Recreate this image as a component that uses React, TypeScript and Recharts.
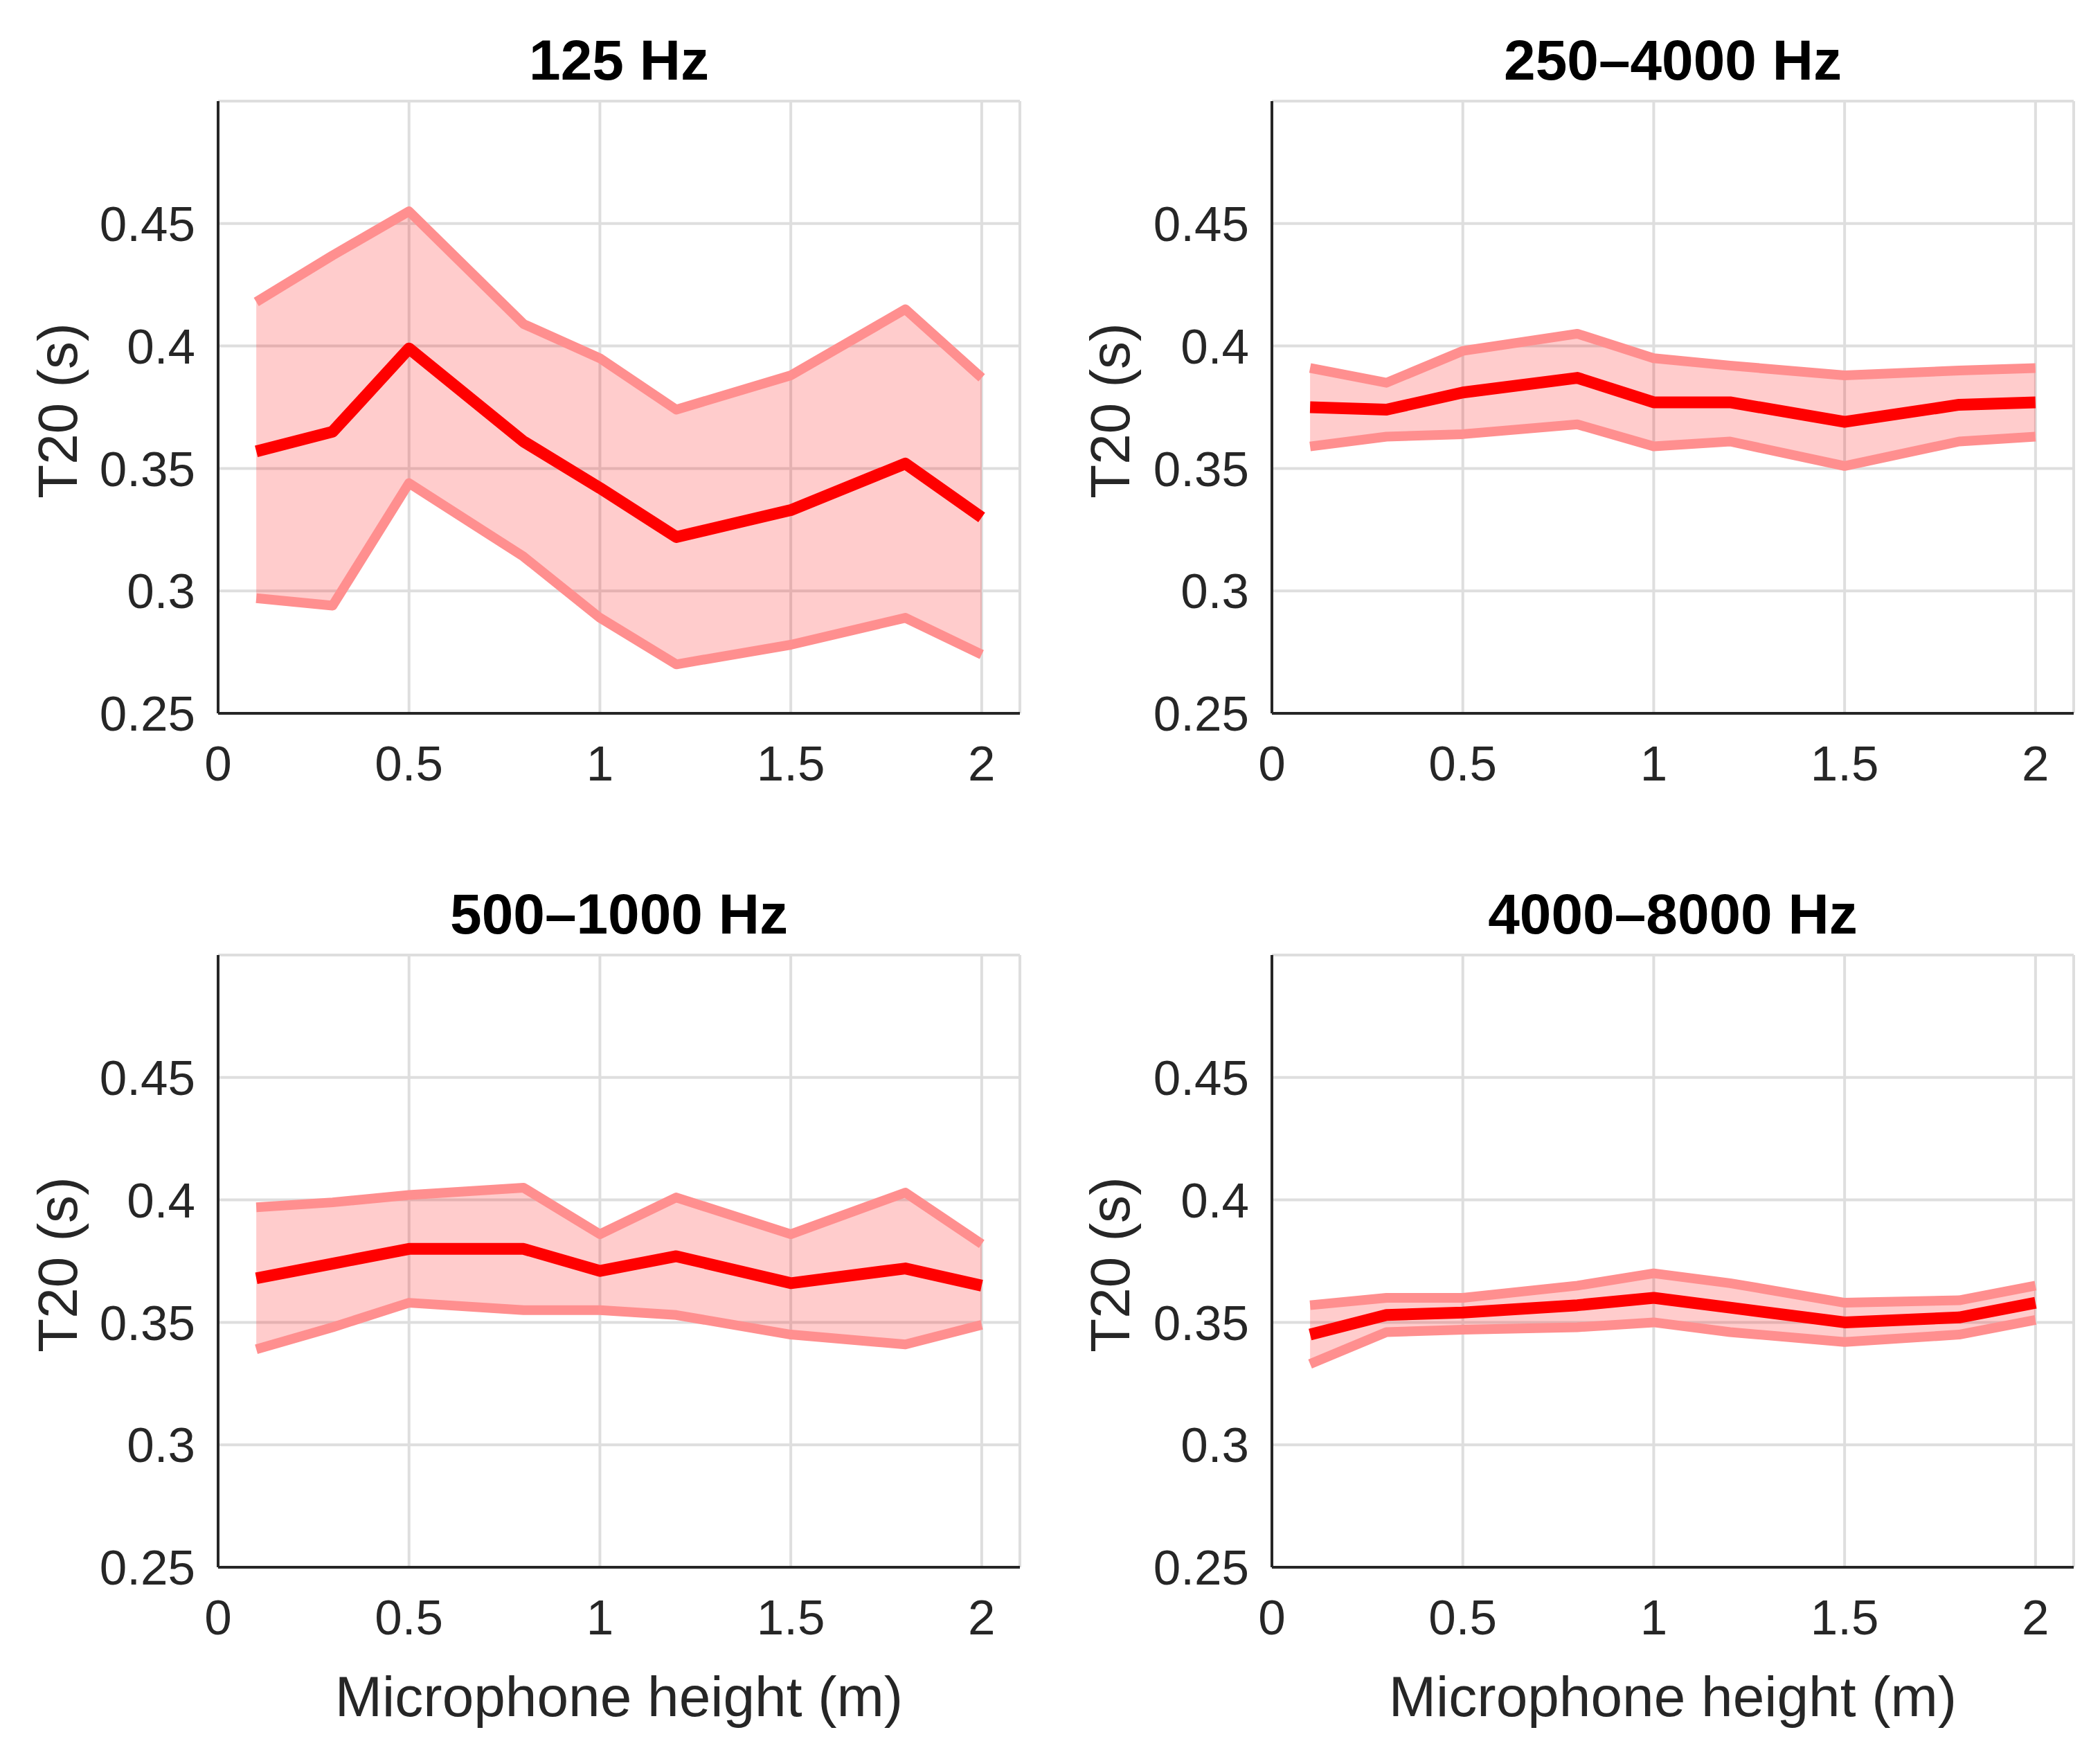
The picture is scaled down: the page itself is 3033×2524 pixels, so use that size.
import React from 'react';
import { ComposedChart, Area, Line, XAxis, YAxis, CartesianGrid } from 'recharts';

// Microphone heights (m)
const heights = [0.1, 0.3, 0.5, 0.8, 1.0, 1.2, 1.5, 1.8, 2.0];

// 125 Hz
const mean125 = [0.357, 0.365, 0.399, 0.361, 0.342, 0.322, 0.333, 0.352, 0.330];
const upper125 = [0.418, 0.437, 0.455, 0.409, 0.395, 0.374, 0.388, 0.415, 0.387];
const lower125 = [0.297, 0.294, 0.344, 0.314, 0.289, 0.270, 0.278, 0.289, 0.274];

// 250–4000 Hz
const mean250 = [0.375, 0.374, 0.381, 0.387, 0.377, 0.377, 0.369, 0.376, 0.377];
const upper250 = [0.391, 0.385, 0.398, 0.405, 0.395, 0.392, 0.388, 0.390, 0.391];
const lower250 = [0.359, 0.363, 0.364, 0.368, 0.359, 0.361, 0.351, 0.361, 0.363];

// 500–1000 Hz
const mean500 = [0.368, 0.374, 0.380, 0.380, 0.371, 0.377, 0.366, 0.372, 0.365];
const upper500 = [0.397, 0.399, 0.402, 0.405, 0.386, 0.401, 0.386, 0.403, 0.382];
const lower500 = [0.339, 0.348, 0.358, 0.355, 0.355, 0.353, 0.345, 0.341, 0.349];

// 4000–8000 Hz
const mean4000 = [0.345, 0.353, 0.354, 0.357, 0.360, 0.356, 0.350, 0.352, 0.358];
const upper4000 = [0.357, 0.360, 0.360, 0.365, 0.370, 0.366, 0.358, 0.359, 0.365];
const lower4000 = [0.333, 0.346, 0.347, 0.348, 0.350, 0.346, 0.342, 0.345, 0.351];

const xTicks = [0, 0.5, 1, 1.5, 2];
const yTicks = [0.25, 0.3, 0.35, 0.4, 0.45];
const titles = ['125 Hz', '250–4000 Hz', '500–1000 Hz', '4000–8000 Hz'];
const yLabel = 'T20 (s)';
const xLabel = 'Microphone height (m)';

const FONT = '"Liberation Sans", Arial, Helvetica, sans-serif';
const AXIS = '#262626';

function build(mean: number[], upper: number[], lower: number[]) {
  return heights.map((h, i) => ({
    h,
    mean: mean[i],
    upper: upper[i],
    lower: lower[i],
    band: [lower[i], upper[i]],
  }));
}

const panels = [
  { title: titles[0], data: build(mean125, upper125, lower125), col: 0, row: 0 },
  { title: titles[1], data: build(mean250, upper250, lower250), col: 1, row: 0 },
  { title: titles[2], data: build(mean500, upper500, lower500), col: 0, row: 1 },
  { title: titles[3], data: build(mean4000, upper4000, lower4000), col: 1, row: 1 },
];

const CHART_W = 1516;
const CHART_H = 1230;
const ROW_TOP = [0, 1233];
const COL_LEFT = [0, 1516];
const COL_MARGIN = [
  { left: 195, right: 43 },
  { left: 201, right: 37 },
];
const Y_AXIS_W = 120;
const X_AXIS_H = 100;
const M_TOP = 146;
const M_BOTTOM = 100;

function Panel({ p }: { p: (typeof panels)[number] }) {
  const left = COL_LEFT[p.col];
  const top = ROW_TOP[p.row];
  const cm = COL_MARGIN[p.col];
  const plotLeft = left + cm.left + Y_AXIS_W;
  const plotRight = left + CHART_W - cm.right;
  const plotTop = top + M_TOP;
  const plotBottom = top + CHART_H - M_BOTTOM - X_AXIS_H;
  const cx = (plotLeft + plotRight) / 2;
  const cy = (plotTop + plotBottom) / 2;
  const yLabelX = p.col === 0 ? 84 : 1604;
  return (
    <>
      <div style={{ position: 'absolute', left, top, width: CHART_W, height: CHART_H }}>
        <ComposedChart
          width={CHART_W}
          height={CHART_H}
          data={p.data}
          margin={{ top: M_TOP, right: cm.right, bottom: M_BOTTOM, left: cm.left }}
        >
          <CartesianGrid stroke="#dedede" strokeWidth={4} />
          <XAxis
            dataKey="h"
            type="number"
            domain={[0, 2.1]}
            ticks={xTicks}
            allowDataOverflow
            height={X_AXIS_H}
            tickSize={0}
            tickMargin={47}
            axisLine={{ stroke: AXIS, strokeWidth: 4 }}
            tickLine={false}
            tick={{ fill: AXIS, fontSize: 71, fontFamily: FONT }}
          />
          <YAxis
            type="number"
            domain={[0.25, 0.5]}
            ticks={yTicks}
            allowDataOverflow
            width={Y_AXIS_W}
            tickSize={0}
            tickMargin={33}
            axisLine={{ stroke: AXIS, strokeWidth: 4 }}
            tickLine={false}
            tick={{ fill: AXIS, fontSize: 71, fontFamily: FONT }}
          />
          <Area
            type="linear"
            dataKey="band"
            stroke="none"
            fill="#ff0000"
            fillOpacity={0.2}
            isAnimationActive={false}
          />
          <Line type="linear" dataKey="upper" stroke="#ff8f8f" strokeWidth={14} dot={false} isAnimationActive={false} strokeLinejoin="round" />
          <Line type="linear" dataKey="lower" stroke="#ff8f8f" strokeWidth={14} dot={false} isAnimationActive={false} strokeLinejoin="round" />
          <Line type="linear" dataKey="mean" stroke="#ff0000" strokeWidth={17} dot={false} isAnimationActive={false} strokeLinejoin="round" />
        </ComposedChart>
      </div>
      <div
        style={{
          position: 'absolute',
          left: cx - 600,
          top: plotTop - 59 - 41,
          width: 1200,
          height: 82,
          lineHeight: '82px',
          fontSize: 82,
          fontWeight: 'bold',
          fontFamily: FONT,
          textAlign: 'center',
          color: '#000',
          whiteSpace: 'nowrap',
        }}
      >
        {p.title}
      </div>
      <div
        style={{
          position: 'absolute',
          left: yLabelX - 300,
          top: cy + 5 - 40,
          width: 600,
          height: 80,
          lineHeight: '80px',
          fontSize: 80,
          fontFamily: FONT,
          textAlign: 'center',
          color: AXIS,
          transform: 'rotate(-90deg)',
          whiteSpace: 'nowrap',
        }}
      >
        {yLabel}
      </div>
      {p.row === 1 && (
        <div
          style={{
            position: 'absolute',
            left: cx - 600,
            top: 2450 - 41,
            width: 1200,
            height: 82,
            lineHeight: '82px',
            fontSize: 82,
            fontFamily: FONT,
            textAlign: 'center',
            color: AXIS,
            whiteSpace: 'nowrap',
          }}
        >
          {xLabel}
        </div>
      )}
    </>
  );
}

export default function App() {
  return (
    <div
      style={{
        position: 'absolute',
        left: 0,
        top: 0,
        width: 3033,
        height: 2524,
        background: '#fff',
        overflow: 'hidden',
      }}
    >
      {panels.map((p) => (
        <Panel key={p.title} p={p} />
      ))}
    </div>
  );
}
